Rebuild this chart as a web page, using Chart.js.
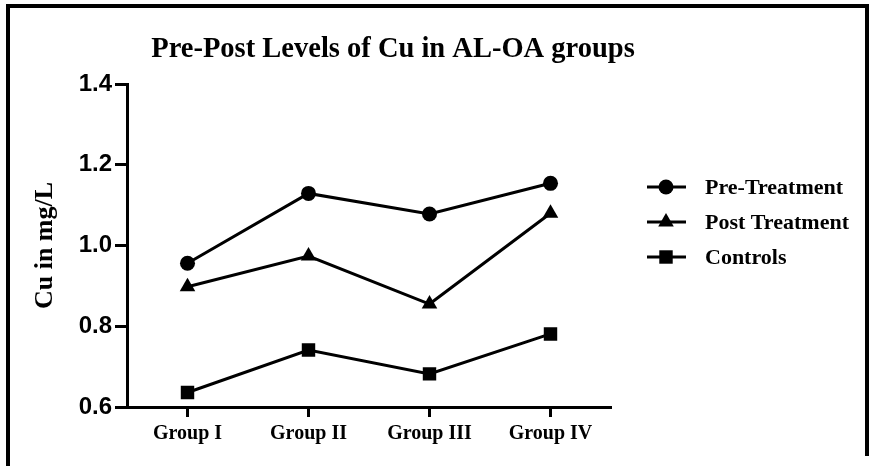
<!DOCTYPE html>
<html>
<head>
<meta charset="utf-8">
<script src="https://cdn.jsdelivr.net/npm/chart.js@4.4.0/dist/chart.umd.min.js"></script>
<style>
  html, body { margin: 0; padding: 0; background: #fff; }
  canvas { display: block; }
</style>
</head>
<body>
<canvas id="cuChart" width="869" height="466"></canvas>
<script>
var groups = ["Group I", "Group II", "Group III", "Group IV"];
var preTreatment = [0.956, 1.129, 1.078, 1.154];
var postTreatment = [0.898, 0.974, 0.855, 1.080];
var controls = [0.636, 0.741, 0.682, 0.781];
var seriesNames = ["Pre-Treatment", "Post Treatment", "Controls"];
var yTicks = [0.6, 0.8, 1.0, 1.2, 1.4];

var serif = "'Liberation Serif', 'Times New Roman', serif";
var sans = "'Liberation Sans', Arial, sans-serif";

// white page + the black frame round it
var framePlugin = {
    id: 'frame',
    beforeDraw: function (chart) {
        var c = chart.ctx;
        c.save();
        c.fillStyle = '#fff';
        c.fillRect(0, 0, chart.width, chart.height);
        c.fillStyle = '#000';
        c.fillRect(6, 4, chart.width - 6, 4);
        c.fillRect(6, 4, 4, chart.height - 4);
        c.fillRect(865, 4, 4, 452);
        c.restore();
    }
};

var titlePlugin = {
    id: 'bigTitle',
    afterDraw: function (chart) {
        var c = chart.ctx;
        c.save();
        c.fillStyle = '#000';
        c.font = "bold 28.5px " + serif;
        c.textAlign = 'center';
        c.textBaseline = 'middle';
        c.fillText("Pre-Post Levels of Cu in AL-OA groups", 393, 50);
        c.restore();
    }
};

// legend with line through the marker, like the original
var legendPlugin = {
    id: 'lineLegend',
    afterDraw: function (chart) {
        var c = chart.ctx;
        var rows = [187, 222, 257];
        chart.data.datasets.forEach(function (ds, i) {
            var y = rows[i];
            c.save();
            c.strokeStyle = '#000';
            c.lineWidth = 3;
            c.beginPath();
            c.moveTo(647, y);
            c.lineTo(686, y);
            c.stroke();
            c.fillStyle = '#000';
            Chart.helpers.drawPoint(c, {
                pointStyle: ds.pointStyle,
                radius: ds.pointRadius,
                rotation: 0,
                borderWidth: 0
            }, 666, y);
            c.font = "bold 22px " + serif;
            c.textAlign = 'left';
            c.textBaseline = 'middle';
            c.fillText(ds.label, 705, y + 1);
            c.restore();
        });
    }
};

function makeSet(label, values, style, radius) {
    return {
        label: label,
        data: values,
        borderColor: '#000',
        backgroundColor: '#000',
        borderWidth: 3,
        pointStyle: style,
        pointRadius: radius,
        pointHoverRadius: radius,
        pointBackgroundColor: '#000',
        pointBorderColor: '#000',
        pointBorderWidth: 0,
        tension: 0
    };
}

var ctx = document.getElementById("cuChart");
var myChart = new Chart(ctx, {
    type: 'line',
    data: {
        labels: groups,
        datasets: [
            makeSet(seriesNames[0], preTreatment, 'circle', 7.5),
            makeSet(seriesNames[1], postTreatment, 'triangle', 9),
            makeSet(seriesNames[2], controls, 'rect', 9.5)
        ]
    },
    options: {
        responsive: false,
        animation: false,
        layout: {
            padding: { left: 0, top: 84, right: 258, bottom: 0 }
        },
        plugins: {
            legend: { display: false },
            title: { display: false },
            tooltip: { enabled: false }
        },
        scales: {
            x: {
                type: 'category',
                offset: true,
                afterFit: function (scale) { scale.height = 59; },
                border: { display: true, color: '#000', width: 3 },
                grid: {
                    offset: false,
                    drawOnChartArea: false,
                    drawTicks: true,
                    tickLength: 10,
                    tickWidth: 3,
                    tickColor: '#000',
                    color: '#000'
                },
                ticks: {
                    color: '#000',
                    padding: 5,
                    maxRotation: 0,
                    font: { family: serif, size: 20, weight: 'bold' }
                }
            },
            y: {
                min: yTicks[0],
                max: yTicks[yTicks.length - 1],
                afterFit: function (scale) { scale.width = 127; },
                afterBuildTicks: function (scale) {
                    scale.ticks = yTicks.map(function (v) { return { value: v }; });
                },
                border: { display: true, color: '#000', width: 3 },
                grid: {
                    drawOnChartArea: false,
                    drawTicks: true,
                    tickLength: 12,
                    tickWidth: 3,
                    tickColor: '#000',
                    color: '#000'
                },
                ticks: {
                    color: '#000',
                    padding: 3,
                    font: { family: sans, size: 24, weight: 'bold' },
                    callback: function (v) { return Number(v).toFixed(1); }
                },
                title: {
                    display: true,
                    text: 'Cu in mg/L',
                    color: '#000',
                    padding: { top: 30, bottom: 0 },
                    font: { family: serif, size: 26, weight: 'bold' }
                }
            }
        }
    },
    plugins: [framePlugin, titlePlugin, legendPlugin]
});
</script>
</body>
</html>
